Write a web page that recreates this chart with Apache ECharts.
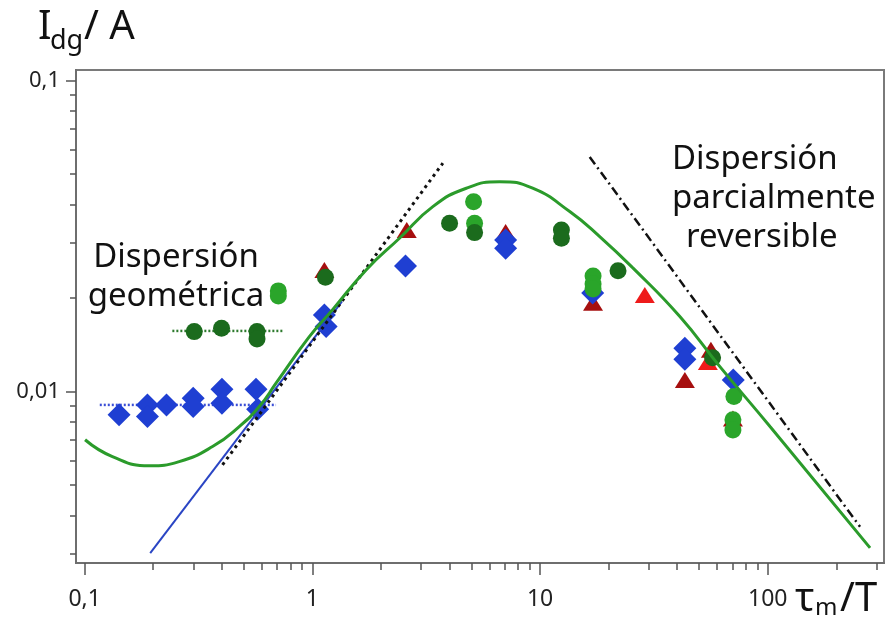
<!DOCTYPE html>
<html><head><meta charset="utf-8">
<script src="https://cdn.jsdelivr.net/npm/echarts@6/dist/echarts.min.js"></script>
<style>html,body{margin:0;padding:0;background:#fff;} #c{width:896px;height:627px;}</style>
</head><body><div id="c"></div>
<script>
// ---- axis ticks (data space, log scale) ----
const xMajorTicks = [0.1, 1, 10, 100];
const xMajorLabels = ['0,1', '1', '10', '100'];
const xMinorTicks = [0.2,0.3,0.4,0.5,0.6,0.7,0.8,0.9,2,3,4,5,6,7,8,9,20,30,40,50,60,70,80,90,200,300];
const yMajorTicks = [0.01, 0.1];
const yMajorLabels = ['0,01', '0,1'];
const yMinorTicks = [0.003,0.004,0.005,0.006,0.007,0.008,0.009,0.02,0.03,0.04,0.05,0.06,0.07,0.08,0.09];
const xRange = [0.0916, 324];
const yRange = [0.00281, 0.1082];

// ---- data series [tau_m/T, I_dg (A)] ----
const blueDiamonds = [
  [0.1416,0.00842],[0.1887,0.00906],[0.1887,0.00831],[0.2287,0.00906],[0.2997,0.00952],[0.2997,0.00895],
  [0.4008,0.01018],[0.4008,0.00918],[0.5655,0.01018],[0.5748,0.00878],[1.129,0.01764],[1.149,0.01618],
  [2.564,0.02536],[7.06,0.03075],[7.06,0.02891],[17.03,0.02077],[43.24,0.01378],[43.24,0.01271],[70.53,0.0109]
];
const darkRedTriangles = [
  [1.129,0.02462],[2.598,0.0331],[7.06,0.0326],[17.09,0.0193],[43.24,0.0109],[56.26,0.01362],[70.31,0.0082]
];
const redTriangles = [
  [28.84,0.02046],[54.58,0.01246]
];
const darkGreenCircles = [
  [0.3028,0.01559],[0.3991,0.01599],[0.5713,0.01559],[0.5713,0.01477],[1.141,0.02332],[4.005,0.03479],
  [5.157,0.03245],[12.41,0.0331],[12.41,0.03113],[22.0,0.02448],[57.24,0.01284]
];
const greenCircles = [
  [0.7087,0.02108],[0.7087,0.02031],[5.105,0.0408],[5.157,0.03479],[17.09,0.02355],[17.09,0.02219],
  [17.09,0.02138],[71.02,0.00964],[70.31,0.00811],[70.31,0.00753]
];
const modelCurve = [
  [0.1004,0.00700],[0.1324,0.00618],[0.1919,0.00577],[0.2601,0.005954],[0.3644,0.006655],[0.4775,0.00772],
  [0.5846,0.00895],[0.6925,0.01064],[0.9701,0.01502],[1.2246,0.01831],[1.722,0.02462],[2.413,0.03113],
  [3.381,0.03935],[4.742,0.04508],[6.642,0.04733],[9.28,0.04508],[13.50,0.03792],[18.28,0.03150],
  [25.62,0.02494],[41.11,0.01743],[61.63,0.01203],[102.3,0.00772],[281.4,0.003144]
];
const blueAsymptote = [[0.194,0.003023],[1.35,0.0195]];
const risingSlope = [[0.4031,0.005811],[3.741,0.05426]];
const fallingSlope = [[16.52,0.05685],[254.3,0.003673]];
const blueLevel = [[0.1165,0.00906],[0.6925,0.00906]];
const greenLevel = [[0.2427,0.01567],[0.7404,0.01567]];

const L = v => Math.log10(v);
const toLog = arr => arr.map(p => [L(p[0]), L(p[1])]);
const FONT = '"Noto Sans", "Open Sans", sans-serif';

function labelFor(ticks, labels) {
  return v => { for (let i = 0; i < ticks.length; i++) if (Math.abs(L(ticks[i]) - v) < 1e-6) return labels[i]; return ''; };
}

const axisLineStyle = { color: '#6e6e6e', width: 2 };
const tickStyle = { color: '#555', width: 1.5 };
const chart = echarts.init(document.getElementById('c'), null, { renderer: 'canvas' });

function scatter(name, data, symbol, size, color, z) {
  return { name, type: 'scatter', data: toLog(data), symbol, symbolSize: size,
    itemStyle: { color, opacity: 1 }, z, silent: true, animation: false };
}
function line(name, data, color, width, type, z, smooth) {
  return { name, type: 'line', data: toLog(data), showSymbol: false, smooth: smooth || false,
    lineStyle: { color, width, type }, z, silent: true, animation: false };
}

chart.setOption({
  backgroundColor: '#ffffff',
  animation: false,
  grid: { left: 76, right: 12, top: 70, bottom: 64, show: true, borderColor: '#7a7a7a', borderWidth: 2, backgroundColor: 'transparent' },
  xAxis: [
    { type: 'value', min: L(xRange[0]), max: L(xRange[1]), position: 'bottom',
      axisLine: { show: true, onZero: false, lineStyle: axisLineStyle },
      axisTick: { show: true, length: 12, customValues: xMajorTicks.map(L), lineStyle: tickStyle },
      axisLabel: { customValues: xMajorTicks.map(L), formatter: labelFor(xMajorTicks, xMajorLabels), margin: 25,
        fontSize: 23, fontFamily: FONT, color: '#222' },
      splitLine: { show: false } },
    { type: 'value', min: L(xRange[0]), max: L(xRange[1]), position: 'bottom',
      axisLine: { show: false, onZero: false },
      axisTick: { show: true, length: 7, customValues: xMinorTicks.map(L), lineStyle: tickStyle },
      axisLabel: { show: false }, splitLine: { show: false } }
  ],
  yAxis: [
    { type: 'value', min: L(yRange[0]), max: L(yRange[1]), position: 'left',
      axisLine: { show: true, onZero: false, lineStyle: axisLineStyle },
      axisTick: { show: true, length: 10, customValues: yMajorTicks.map(L), lineStyle: tickStyle },
      axisLabel: { customValues: yMajorTicks.map(L), formatter: labelFor(yMajorTicks, yMajorLabels), margin: 16,
        fontSize: 22, fontFamily: FONT, color: '#222' },
      splitLine: { show: false } },
    { type: 'value', min: L(yRange[0]), max: L(yRange[1]), position: 'left',
      axisLine: { show: false, onZero: false },
      axisTick: { show: true, length: 6, customValues: yMinorTicks.map(L), lineStyle: tickStyle },
      axisLabel: { show: false }, splitLine: { show: false } }
  ],
  series: [
    line('blueLevel', blueLevel, '#3b4fd6', 2.5, [2, 2], 1),
    line('greenLevel', greenLevel, '#2d7a2d', 2.5, [2, 2], 1),
    scatter('redTri', redTriangles, 'triangle', [20, 16], '#ee1b1b', 2),
    scatter('darkRedTri', darkRedTriangles, 'triangle', [20, 16], '#a60f0f', 3),
    scatter('blueDia', blueDiamonds, 'diamond', [23, 23], '#1f3fd2', 4),
    scatter('greenCirc', greenCircles, 'circle', 17, '#2aa52a', 5),
    scatter('darkGreenCirc', darkGreenCircles, 'circle', 17, '#1b6b1d', 6),
    line('blueAsym', blueAsymptote, '#2a45c4', 2, 'solid', 7),
    line('rising', risingSlope, '#111', 3, [3, 4], 8),
    line('falling', fallingSlope, '#111', 2.5, [9, 4, 2, 4], 8),
    line('model', modelCurve, '#2b9b2b', 3, 'solid', 9, 0.5)
  ],
  graphic: [
    { type: 'text', left: 38, top: 8, style: { text: 'I', fontSize: 40, fontFamily: FONT, fill: '#111' } },
    { type: 'text', left: 50, top: 28, style: { text: 'dg', fontSize: 27, fontFamily: FONT, fill: '#111' } },
    { type: 'text', left: 84, top: 8, style: { text: '/ A', fontSize: 40, fontFamily: FONT, fill: '#111' } },
    { type: 'text', left: 795, top: 580, style: { text: 'τ', fontSize: 40, fontFamily: FONT, fill: '#111' } },
    { type: 'text', left: 815, top: 596, style: { text: 'm', fontSize: 24, fontFamily: FONT, fill: '#111' } },
    { type: 'text', left: 840, top: 580, style: { text: '/T', fontSize: 40, fontFamily: FONT, fill: '#111' } },
    { type: 'text', x: 176, y: 238, style: { text: 'Dispersión\ngeométrica', fontSize: 33, lineHeight: 39, align: 'center', verticalAlign: 'top', fontFamily: FONT, fill: '#111' } },
    { type: 'text', x: 672, y: 140, style: { text: 'Dispersión\nparcialmente', fontSize: 33, lineHeight: 39, align: 'left', verticalAlign: 'top', fontFamily: FONT, fill: '#111' } },
    { type: 'text', x: 686, y: 218, style: { text: 'reversible', fontSize: 33, lineHeight: 39, align: 'left', verticalAlign: 'top', fontFamily: FONT, fill: '#111' } }
  ]
});
</script></body></html>
